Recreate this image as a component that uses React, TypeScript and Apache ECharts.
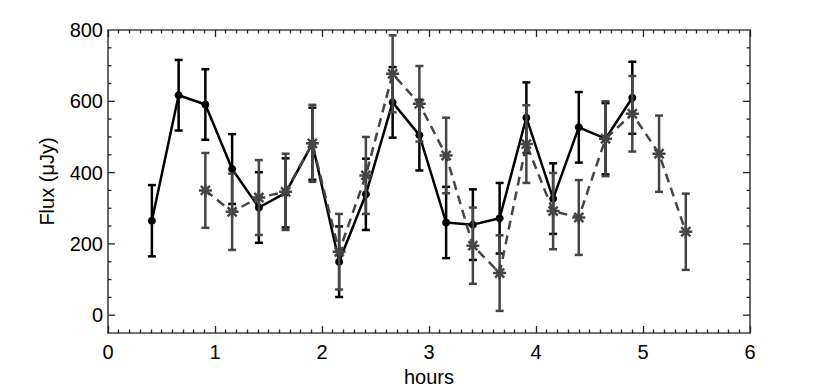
import React, { useEffect, useRef } from "react";
import * as echarts from "echarts";

const blackHours = [0.41, 0.66, 0.91, 1.16, 1.41, 1.66, 1.91, 2.16, 2.41, 2.66, 2.91, 3.16, 3.41, 3.66, 3.91, 4.16, 4.4, 4.65, 4.9];
const blackFlux = [265, 617, 591, 410, 302, 343, 481, 150, 339, 597, 505, 260, 254, 272, 554, 327, 527, 495, 610];
const blackErr = [100, 99, 99, 98, 99, 97, 101, 99, 100, 99, 99, 100, 99, 99, 99, 99, 99, 100, 101];

const grayHours = [0.91, 1.16, 1.41, 1.66, 1.91, 2.16, 2.41, 2.66, 2.91, 3.16, 3.41, 3.66, 3.91, 4.16, 4.4, 4.65, 4.9, 5.15, 5.4];
const grayFlux = [350, 290, 330, 346, 482, 178, 392, 677, 593, 448, 195, 118, 480, 292, 274, 495, 565, 453, 234];
const grayErr = [105, 107, 105, 107, 108, 106, 108, 108, 106, 106, 107, 106, 109, 107, 105, 105, 106, 107, 107];

const xTicks = [0, 1, 2, 3, 4, 5, 6];
const yTicks = [0, 200, 400, 600, 800];
const yMinorTicks = [50, 100, 150, 250, 300, 350, 450, 500, 550, 650, 700, 750];

const FONT = "'Liberation Sans', Arial, Helvetica, sans-serif";
const BLACK = "#000000";
const GRAY = "#454545";

function errData(xs: number[], ys: number[], es: number[]) {
  return xs.map((x, i) => [x, ys[i] - es[i], ys[i] + es[i]]);
}

function errSeries(data: number[][], color: string, z: number) {
  return {
    type: "custom",
    z,
    silent: true,
    data,
    encode: { x: 0, y: [1, 2] },
    renderItem: (params: any, api: any) => {
      const x = api.value(0);
      const lo = api.coord([x, api.value(1)]);
      const hi = api.coord([x, api.value(2)]);
      const w = 4;
      const style = { stroke: color, lineWidth: 2.5, fill: "none" };
      return {
        type: "group",
        children: [
          { type: "line", shape: { x1: lo[0], y1: lo[1], x2: hi[0], y2: hi[1] }, style },
          { type: "line", shape: { x1: lo[0] - w, y1: lo[1], x2: lo[0] + w, y2: lo[1] }, style },
          { type: "line", shape: { x1: hi[0] - w, y1: hi[1], x2: hi[0] + w, y2: hi[1] }, style },
        ],
      };
    },
  };
}

export default function App() {
  const ref = useRef<HTMLDivElement>(null);
  useEffect(() => {
    if (!ref.current) return;
    const chart = echarts.init(ref.current, null, { renderer: "svg" });
    const axisLine = { show: true, onZero: false, lineStyle: { color: "#444", width: 1.6 } };
    const tickStyle = { color: "#222", width: 1.3 };
    const labelStyle = { color: "#000", fontSize: 20, fontFamily: FONT };
    const xBase = {
      type: "value",
      min: 0,
      max: 6,
      interval: 1,
      axisLine,
      axisTick: { show: true, inside: true, length: 7, lineStyle: tickStyle },
      minorTick: { show: true, splitNumber: 10, length: 3.5, lineStyle: tickStyle },
      splitLine: { show: false },
      minorSplitLine: { show: false },
    };
    const yBase = {
      type: "value",
      min: -50,
      max: 800,
      interval: 50,
      axisLine,
      axisTick: { show: false },
      minorTick: { show: false },
      splitLine: { show: false },
      minorSplitLine: { show: false },
    };
    chart.setOption({
      animation: false,
      backgroundColor: "#ffffff",
      grid: { left: 108, right: 80, top: 30, bottom: 57, containLabel: false, outerBoundsMode: "none" },
      xAxis: [
        {
          ...xBase,
          position: "bottom",
          name: "hours",
          nameLocation: "middle",
          nameGap: 30,
          nameTextStyle: { color: "#000", fontSize: 20, fontFamily: FONT },
          axisLabel: {
            ...labelStyle,
            margin: 9,
            formatter: (v: number) => (xTicks.includes(v) ? String(v) : ""),
          },
        },
        { ...xBase, position: "top", axisLabel: { show: false } },
      ],
      yAxis: [
        {
          ...yBase,
          position: "left",
          name: "Flux (\u03BCJy)",
          nameLocation: "middle",
          nameGap: 51,
          nameTextStyle: { color: "#000", fontSize: 20, fontFamily: FONT },
          axisLabel: {
            ...labelStyle,
            margin: 5,
            formatter: (v: number) => (yTicks.includes(v) ? String(v) : ""),
          },
        },
        { ...yBase, position: "right", axisLabel: { show: false } },
      ],
      series: [
        {
          type: "custom",
          silent: true,
          z: 1,
          data: [...yTicks.filter((v) => v < 800), ...yMinorTicks].map((v) => [v]),
          encode: { y: 0 },
          renderItem: (params: any, api: any) => {
            const v = api.value(0);
            const p = api.coord([0, v]);
            const q = api.coord([6, v]);
            const len = yTicks.includes(v) ? 7 : 3.5;
            const style = { stroke: "#222", lineWidth: 1.3 };
            return {
              type: "group",
              children: [
                { type: "line", shape: { x1: p[0], y1: p[1], x2: p[0] + len, y2: p[1] }, style },
                { type: "line", shape: { x1: q[0], y1: q[1], x2: q[0] - len, y2: q[1] }, style },
              ],
            };
          },
        },
        errSeries(errData(blackHours, blackFlux, blackErr), BLACK, 3),
        {
          type: "line",
          z: 4,
          data: blackHours.map((x, i) => [x, blackFlux[i]]),
          lineStyle: { color: BLACK, width: 2.5 },
          symbol: "circle",
          symbolSize: 8,
          itemStyle: { color: BLACK },
        },
        errSeries(errData(grayHours, grayFlux, grayErr), GRAY, 5),
        {
          type: "line",
          z: 6,
          data: grayHours.map((x, i) => [x, grayFlux[i]]),
          lineStyle: { color: GRAY, width: 2.5, type: [9, 6] },
          symbol: "path://M5 0 L5 10 M0 5 L10 5 M1.5 1.5 L8.5 8.5 M1.5 8.5 L8.5 1.5",
          symbolSize: 13,
          itemStyle: { color: GRAY, borderColor: GRAY, borderWidth: 2.5 },
        },
      ],
    });
    return () => chart.dispose();
  }, []);
  return <div ref={ref} style={{ position: "absolute", left: 0, top: 0, width: 830, height: 390 }} />;
}
